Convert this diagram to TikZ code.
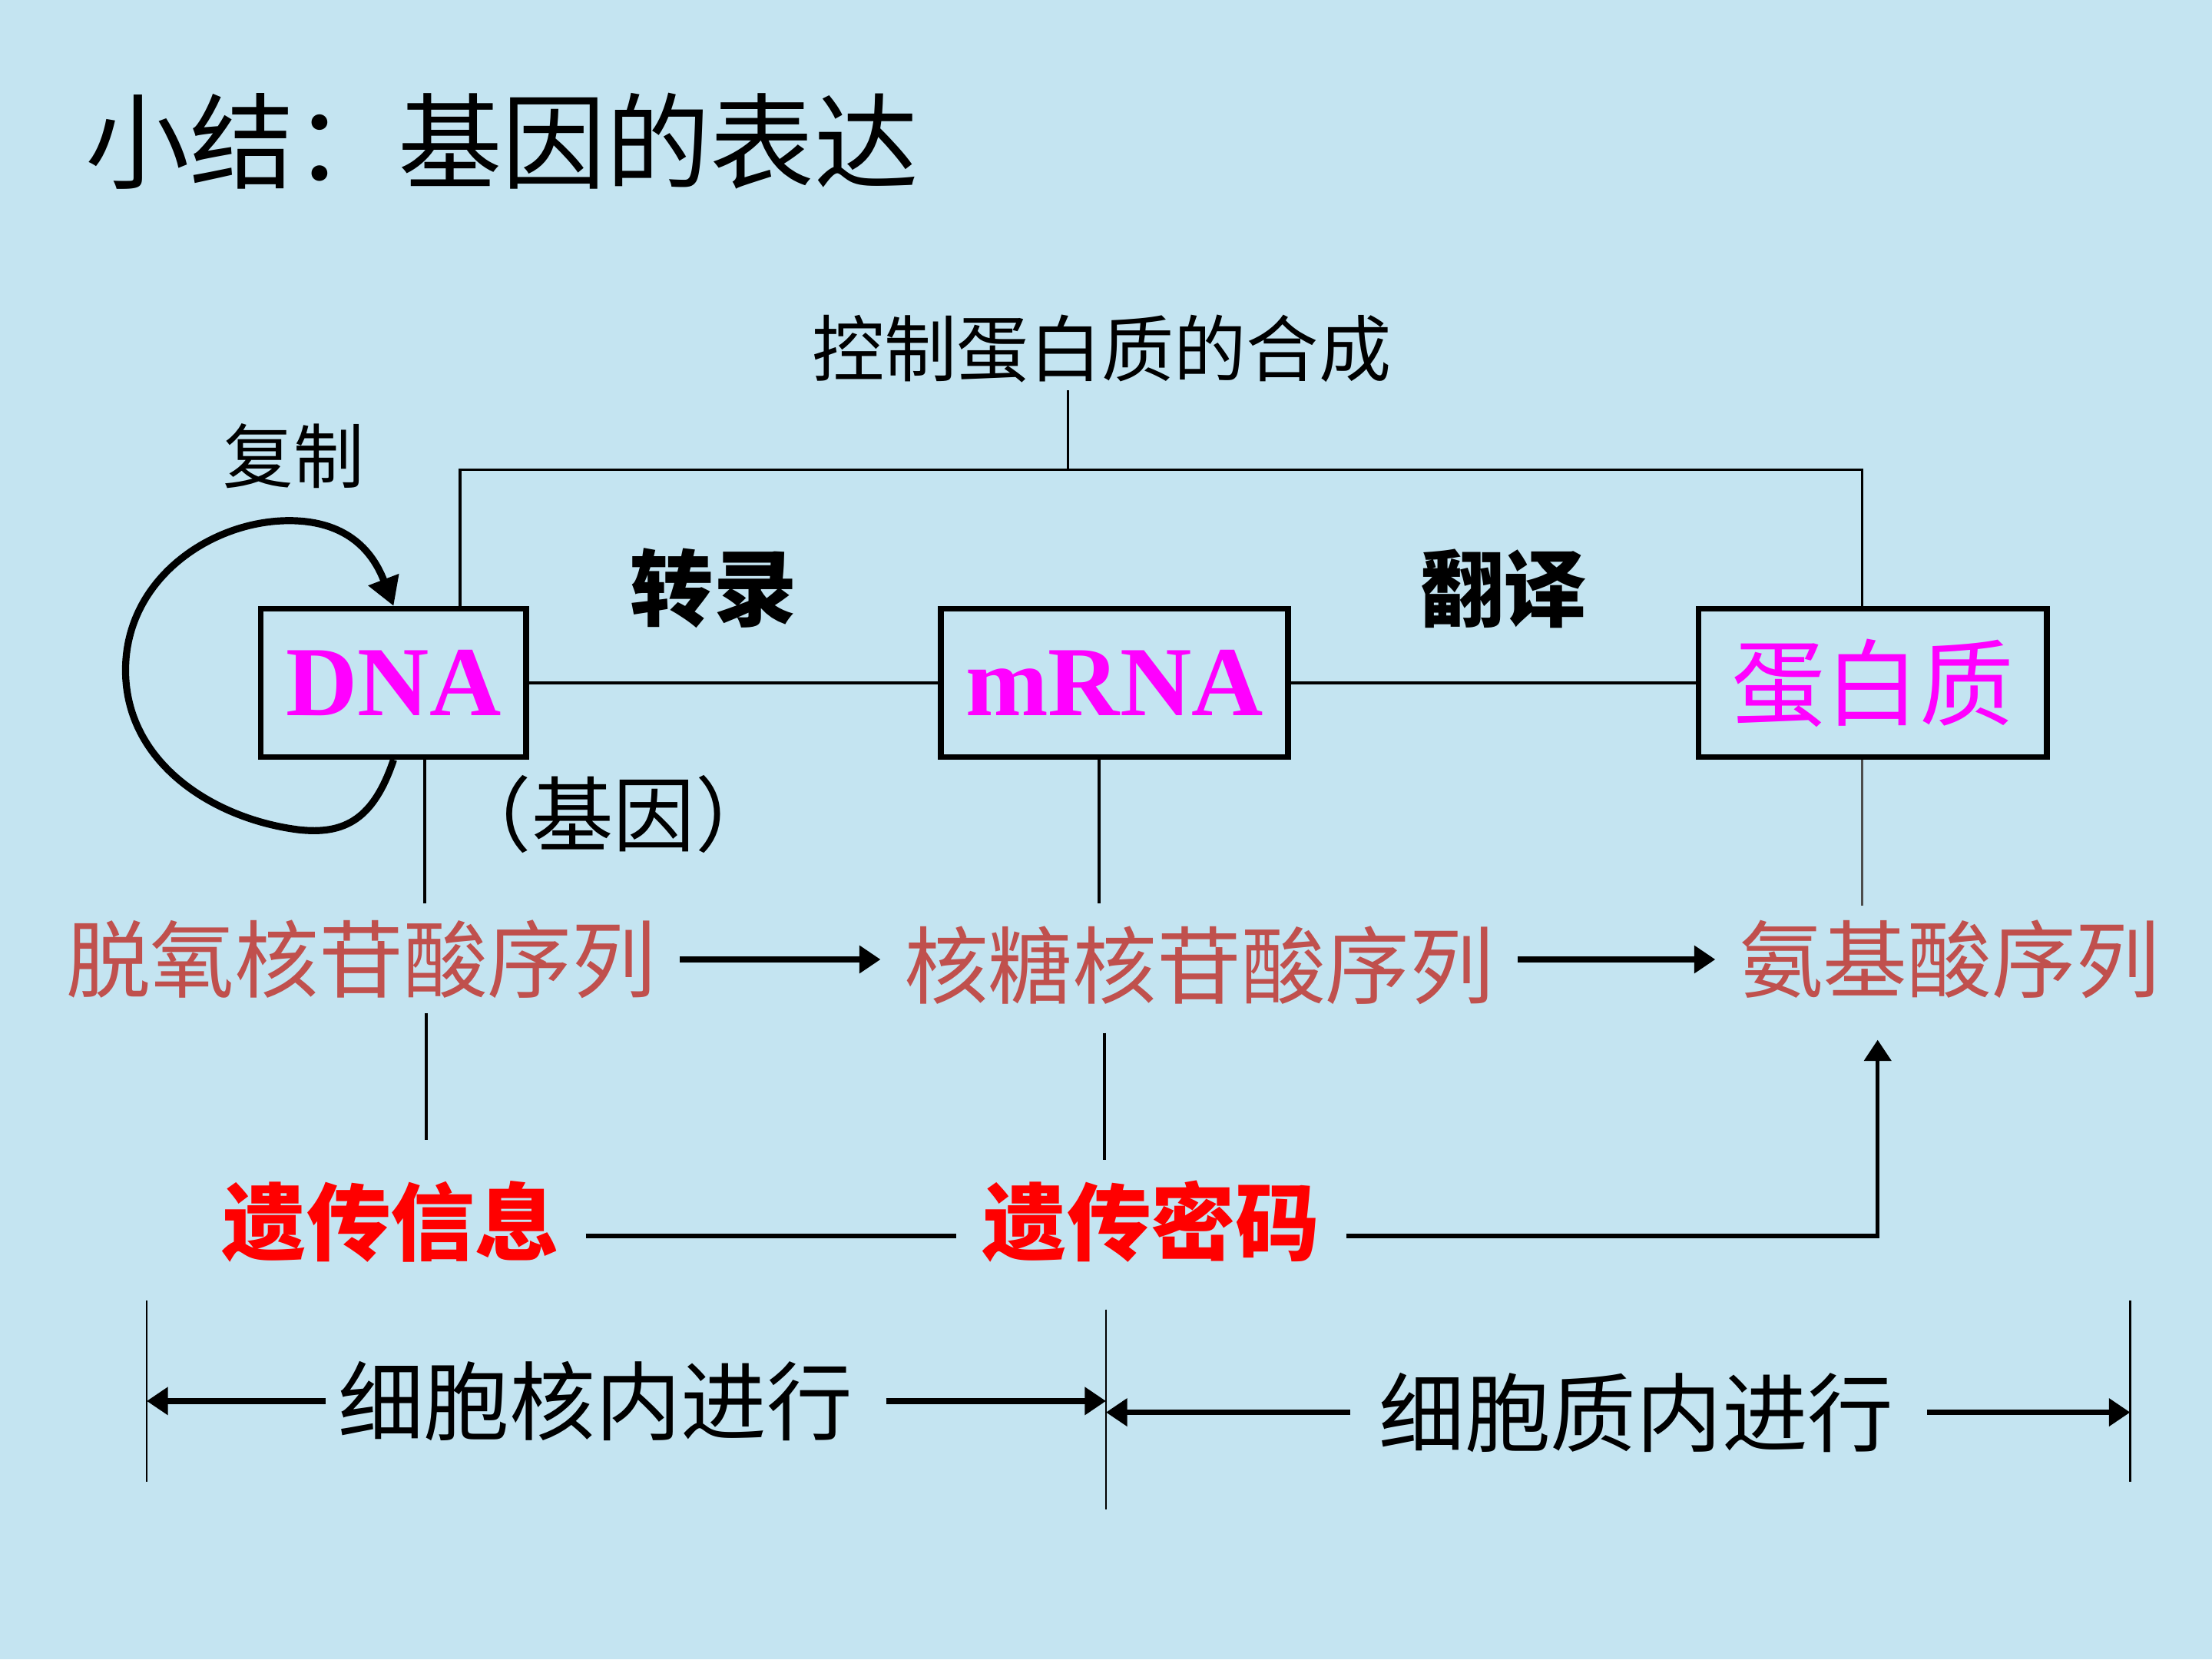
\documentclass[tikz,border=0pt]{standalone}
\usepackage{fontspec}
\setmainfont{Noto Sans CJK SC}
\newfontfamily\latfont{Liberation Serif}
\usetikzlibrary{arrows.meta}
\definecolor{bgblue}{RGB}{196,228,241}
\definecolor{seqred}{RGB}{192,80,77}
\definecolor{boxpink}{RGB}{255,0,255}

\begin{document}
\begin{tikzpicture}[x=0.1mm, y=-0.1mm,
  box/.style={draw, line width=0.4mm, inner sep=0, minimum height=10.5mm, text=boxpink},
  seq/.style={text=seqred, font=\fontsize{17pt}{20pt}\selectfont, inner sep=1.6mm},
  key/.style={text=red, font=\fontsize{17pt}{20pt}\selectfont\bfseries, inner sep=1.8mm},
  place/.style={font=\fontsize{17.3pt}{20pt}\selectfont, inner sep=0.8mm},
  lbl/.style={font=\fontsize{14.6pt}{18pt}\selectfont, inner sep=0.5mm},
  step name/.style={font=\fontsize{16.8pt}{20pt}\selectfont\bfseries},
  thinline/.style={line width=0.2mm},
  arr/.style={line width=0.4mm, -{Triangle[length=1.5mm, width=1.9mm]}},
  ]
  \fill[bgblue] (0,0) rectangle (1568,1176);
  \useasboundingbox (0,0) rectangle (1568,1176);

  % title
  \node[anchor=west, inner sep=0, font=\fontsize{21pt}{25pt}\selectfont] (title) at (60,100) {小结：基因的表达};

  % boxes
  \node[box, minimum width=18.8mm, font=\latfont\bfseries\fontsize{20pt}{24pt}\selectfont] (dna) at (279,484) {DNA};
  \node[box, minimum width=24.6mm, font=\latfont\bfseries\fontsize{20pt}{24pt}\selectfont] (mrna) at (790,484) {mRNA};
  \node[box, minimum width=24.7mm, font=\fontsize{19pt}{22pt}\selectfont] (prot) at (1327.5,484) {蛋白质};

  % labels
  \node[lbl] (ctl) at (781,247) {控制蛋白质的合成};
  \node[lbl, font=\fontsize{14.2pt}{18pt}\selectfont] (rep) at (208,323) {复制};
  \node[step name] (trs) at (506,417) {转录};
  \node[step name] (trl) at (1066,417) {翻译};
  \node[font=\fontsize{16.5pt}{20pt}\selectfont] (gene) at (435,577) {（基因）};

  \node[seq] (deoxy) at (256,680) {脱氧核苷酸序列};
  \node[seq] (ribo) at (850,684) {核糖核苷酸序列};
  \node[seq] (amino) at (1382,680) {氨基酸序列};

  \node[key] (info) at (277,866) {遗传信息};
  \node[key] (code) at (816,866) {遗传密码};

  \node[place] (nuc) at (422,993) {细胞核内进行};
  \node[place] (cyto) at (1160,1001) {细胞质内进行};

  % free ends
  \coordinate (ctlL) at (326,333);
  \coordinate (ctlM) at (757,333);
  \coordinate (ctlR) at (1320,333);
  \coordinate (dnaA) at (301,640);
  \coordinate (dnaB) at (302,718);
  \coordinate (dnaC) at (302,808);
  \coordinate (mrA) at (779,640);
  \coordinate (mrB) at (783,732);
  \coordinate (mrC) at (783,822);
  \coordinate (prA) at (1320,642);
  \coordinate (aminoIn) at (1331,737);
  \coordinate (bl) at (104,922);
  \coordinate (blE) at (104,1050);
  \coordinate (bm) at (784,928);
  \coordinate (bmE) at (784,1070);
  \coordinate (br) at (1510,922);
  \coordinate (brE) at (1510,1050);

  % control bracket
  \draw[thinline] (ctlM |- ctl.south) -- (ctlM);
  \draw[thinline] (dna.north -| ctlL) -- (ctlL) -- (ctlR) -- (prot.north -| ctlR);

  % transcription / translation
  \draw[thinline] (dna.east) -- (mrna.west);
  \draw[thinline] (mrna.east) -- (prot.west);

  % replication
  \draw[line width=0.5mm, -{Triangle[length=2mm, width=2.2mm]}] (dna.south)
    .. controls (265,580) and (245,592) .. (211,588)
    .. controls (150,580) and (89,540) .. (89,475)
    .. controls (89,410) and (150,369) .. (205,369)
    .. controls (240,369) and (262,385) .. (dna.north);

  % verticals
  \draw[thinline] (dna.south -| dnaA) -- (dnaA);
  \draw[thinline] (dnaB) -- (dnaC);
  \draw[thinline] (mrna.south -| mrA) -- (mrA);
  \draw[thinline] (mrB) -- (mrC);
  \draw[line width=0.12mm, black!70] (prot.south -| prA) -- (prA);

  % sequences
  \draw[arr] (deoxy.east) -- (deoxy.east -| ribo.west);
  \draw[arr] (ribo.east |- amino.west) -- (amino.west);

  \draw[line width=0.3mm] ([yshift=-1mm]info.east) -- ([yshift=-1mm]code.west);
  \draw[arr, line width=0.3mm] ([yshift=-1mm]code.east) -| (aminoIn);

  % where
  \draw[line width=0.15mm] (bl) -- (blE);
  \draw[line width=0.15mm] (bm) -- (bmE);
  \draw[line width=0.15mm] (br) -- (brE);
  \draw[arr] (nuc.west) -- (nuc.west -| bl);
  \draw[arr] ([xshift=1.5mm]nuc.east) -- (nuc.east -| bm);
  \draw[arr] ([xshift=-1.2mm]cyto.west) -- (cyto.west -| bm);
  \draw[arr] ([xshift=1.5mm]cyto.east) -- (cyto.east -| br);
\end{tikzpicture}
\end{document}
